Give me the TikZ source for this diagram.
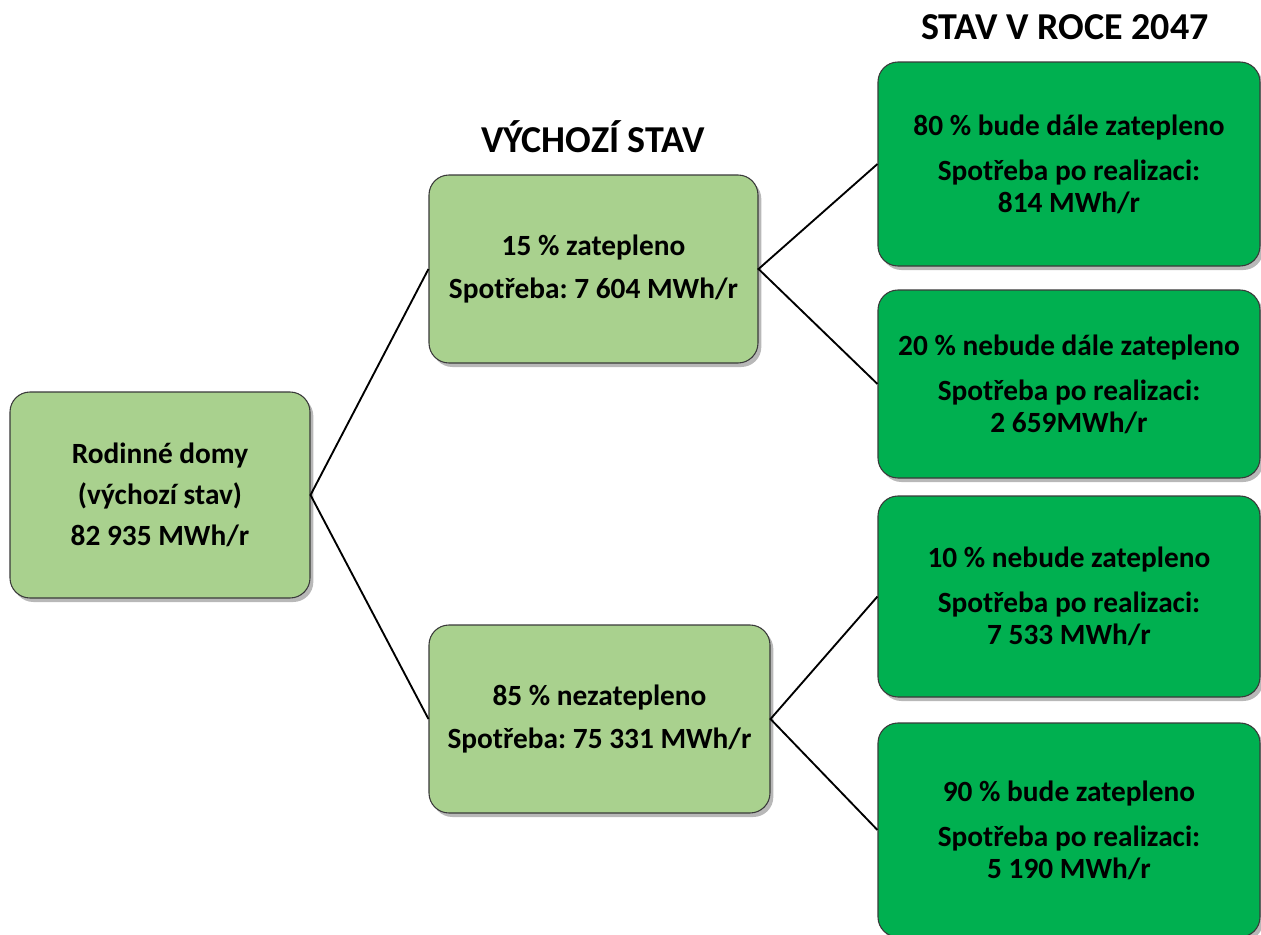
\documentclass[tikz,border=0pt]{standalone}
\usepackage{fontspec}
\setmainfont{Carlito}
\usetikzlibrary{shadows}
\frenchspacing
\definecolor{lightgr}{HTML}{A9D18E}
\definecolor{darkgr}{HTML}{00B050}
\definecolor{edgegray}{HTML}{3A3A3A}
\tikzset{
  box/.style={draw=edgegray, line width=0.8pt, rounded corners=15pt, align=center,
    font=\fontsize{22}{24}\selectfont\bfseries\frenchspacing, inner sep=0pt,
    drop shadow={shadow xshift=2.5pt, shadow yshift=-3pt, fill=black, opacity=0.28}},
  lbox/.style={box, fill=lightgr},
  dbox/.style={box, fill=darkgr},
  title/.style={font=\fontsize{28.5}{34}\selectfont\bfseries, inner sep=0pt},
  conn/.style={line width=1.4pt, black}
}
\begin{document}
\begin{tikzpicture}[x=0.75pt, y=-0.75pt]
\useasboundingbox (0,0) rectangle (1261,935);
\fill[white] (0,0) rectangle (1261,935);

\node[title] (t1) at (593,137) {VÝCHOZÍ STAV};
\node[title] (t2) at (1065,27) {STAV V ROCE 2047};

\node[lbox, minimum width=225pt, minimum height=154.5pt] (root) at (160,495)
  {Rodinné domy\\[6.75pt](výchozí stav)\\[6.75pt]82 935 MWh/r};
\node[lbox, minimum width=246.75pt, minimum height=141pt] (a) at (593.5,269)
  {15 \% zatepleno\\[8pt]Spotřeba: 7 604 MWh/r};
\node[lbox, minimum width=255.75pt, minimum height=141pt] (b) at (599.5,719)
  {85 \% nezatepleno\\[8pt]Spotřeba: 75 331 MWh/r};

\node[dbox, minimum width=286.5pt, minimum height=153pt] (r1) at (1069,164)
  {80 \% bude dále zatepleno\\[9.75pt]Spotřeba po realizaci:\\814 MWh/r};
\node[dbox, minimum width=286.5pt, minimum height=141pt] (r2) at (1069,384)
  {20 \% nebude dále zatepleno\\[9.75pt]Spotřeba po realizaci:\\2 659MWh/r};
\node[dbox, minimum width=286.5pt, minimum height=150.75pt] (r3) at (1069,596.5)
  {10 \% nebude zatepleno\\[9.75pt]Spotřeba po realizaci:\\7 533 MWh/r};
\node[dbox, minimum width=286.5pt, minimum height=160.5pt] (r4) at (1069,830)
  {90 \% bude zatepleno\\[9.75pt]Spotřeba po realizaci:\\5 190 MWh/r};

\draw[conn] (a.west) -- (root.east) -- (b.west);
\draw[conn] (r1.west) -- (a.east) -- (r2.west);
\draw[conn] (r3.west) -- (b.east) -- (r4.west);
\end{tikzpicture}
\end{document}
